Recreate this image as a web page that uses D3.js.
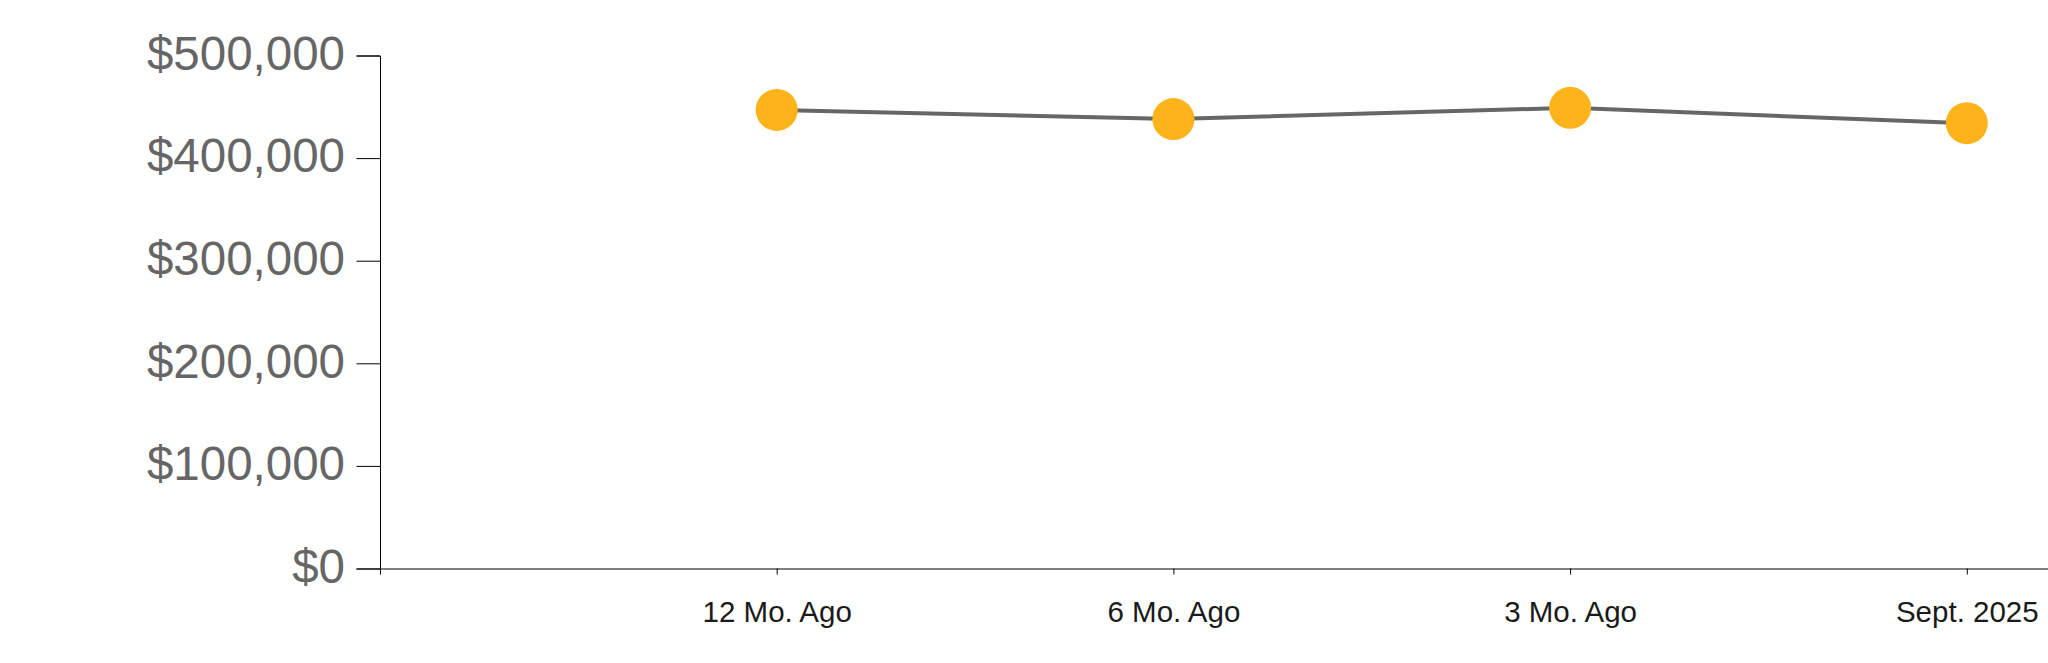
<!DOCTYPE html>
<html>
<head>
<meta charset="utf-8">
<script src="https://cdn.jsdelivr.net/npm/d3@7"></script>
<style>
  html, body { margin: 0; padding: 0; background: #fff; }
  svg { display: block; }
</style>
</head>
<body>
<svg id="chart" width="2048" height="663"></svg>
<script>
const categories = ["12 Mo. Ago", "6 Mo. Ago", "3 Mo. Ago", "Sept. 2025"];
const values = [447000, 438000, 449000, 434000];
const yTicks = [0, 100000, 200000, 300000, 400000, 500000];

const svg = d3.select("#chart");
const marginLeft = 380, plotTop = 55.5, plotBottom = 568.5;

const x = d3.scalePoint().domain(categories).range([marginLeft, marginLeft + 5 * 396.7]).padding(1);
const y = d3.scaleLinear().domain([0, 500000]).range([plotBottom, plotTop]);

const fmt = d => "$" + d3.format(",")(d);

const yAxis = svg.append("g")
  .attr("transform", `translate(${marginLeft},0)`)
  .call(d3.axisLeft(y).tickValues(yTicks).tickFormat(fmt).tickSize(23.5).tickPadding(11.5));
yAxis.selectAll("text")
  .attr("fill", "#666")
  .attr("dy", "0.29em")
  .style("font-family", "'Liberation Sans', Arial, sans-serif")
  .style("font-size", "47.5px");

const xAxis = svg.append("g")
  .attr("transform", `translate(0,${plotBottom})`)
  .call(d3.axisBottom(x).tickSize(6).tickPadding(27));
xAxis.selectAll("text")
  .attr("fill", "#1a1a1a")
  .style("font-family", "'Liberation Sans', Arial, sans-serif")
  .style("font-size", "29.5px");

svg.selectAll(".domain, .tick line").attr("stroke", "#000");

const data = categories.map((c, i) => ({ c, v: values[i] }));

svg.append("path")
  .datum(data)
  .attr("fill", "none")
  .attr("stroke", "#666")
  .attr("stroke-width", 4)
  .attr("d", d3.line().x(d => x(d.c)).y(d => y(d.v)));

svg.selectAll("circle.pt")
  .data(data)
  .enter().append("circle")
  .attr("class", "pt")
  .attr("cx", d => x(d.c))
  .attr("cy", d => y(d.v))
  .attr("r", 21)
  .attr("fill", "#fcb41a");
</script>
</body>
</html>
